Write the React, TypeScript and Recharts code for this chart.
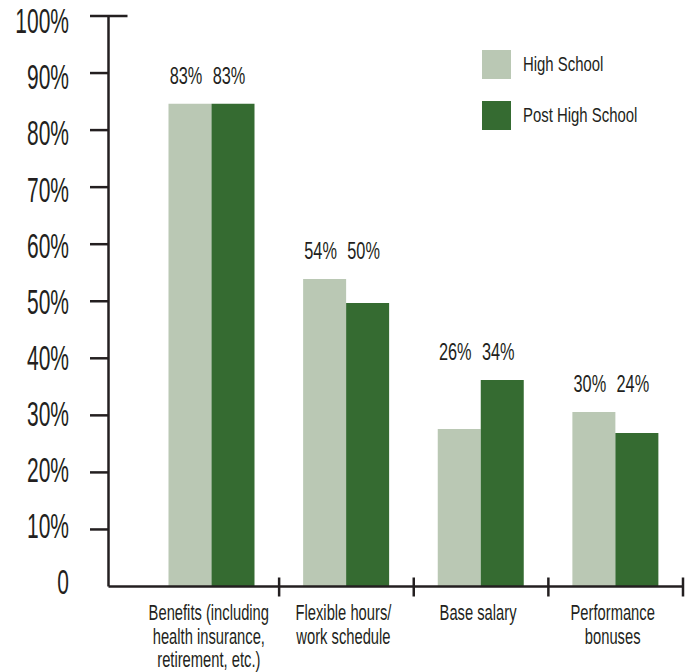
import React from "react";
import { Bar, BarChart, Customized, LabelList, XAxis, YAxis } from "recharts";

const categories = [
  "Benefits (including\nhealth insurance,\nretirement, etc.)",
  "Flexible hours/\nwork schedule",
  "Base salary",
  "Performance\nbonuses",
];
const seriesNames = ["High School", "Post High School"];
// bar heights as drawn in the picture
const highSchool = [84.6, 53.9, 27.6, 30.6];
const postHighSchool = [84.6, 49.7, 36.2, 26.9];
// printed value labels
const highSchoolLabels = ["83%", "54%", "26%", "30%"];
const postHighSchoolLabels = ["83%", "50%", "34%", "24%"];
const yTicks = [0, 10, 20, 30, 40, 50, 60, 70, 80, 90, 100];

const LIGHT = "#bac8b4";
const DARK = "#356b31";
const INK = "#231f20";
const FONT = "'Liberation Sans', Arial, sans-serif";

const data = categories.map((name, i) => ({
  name,
  hs: highSchool[i],
  phs: postHighSchool[i],
}));

function YTick({ x, y, payload }: any) {
  const v = payload.value;
  const dy = (v - 50) * 0.095;
  return (
    <g>
      {v > 0 && (
        <line
          x1={x - 18.5}
          x2={v === 100 ? x + 19 : x}
          y1={y}
          y2={y}
          stroke={INK}
          strokeWidth={2.5}
        />
      )}
      <text
        transform={`translate(${x - 39.5},${y + dy + 12.5}) scale(0.6,1)`}
        textAnchor="end"
        fontSize={35}
        fontFamily={FONT}
        fill={INK}
      >
        {v === 0 ? "0" : `${v}%`}
      </text>
    </g>
  );
}

function XTick({ x, y, payload }: any) {
  const half = payload.offset || 67;
  const lines = String(payload.value).split("\n");
  return (
    <g>
      <line x1={x + half} x2={x + half} y1={y - 9} y2={y + 10} stroke={INK} strokeWidth={2.5} />
      {lines.map((l, i) => (
        <text
          key={i}
          transform={`translate(${x - 3},${y + 33.5 + i * 23.5}) scale(0.67,1)`}
          textAnchor="middle"
          fontSize={22}
          fontFamily={FONT}
          fill={INK}
        >
          {l}
        </text>
      ))}
    </g>
  );
}

function makeLabel(labels: string[], own: number[], other: number[]) {
  return (props: any) => {
    const box = props.viewBox || props;
    const { x, y, width, height } = box;
    const i = props.index;
    const v = own[i];
    const perUnit = v ? Math.abs(height) / v : 0;
    const top = y - (Math.max(own[i], other[i]) - v) * perUnit;
    return (
      <text
        transform={`translate(${x + width / 2 - 4},${top - 20}) scale(0.68,1)`}
        textAnchor="middle"
        fontSize={24}
        fontFamily={FONT}
        fill={INK}
      >
        {labels[i]}
      </text>
    );
  };
}

function LegendBlock() {
  const colors = [LIGHT, DARK];
  return (
    <g>
      {seriesNames.map((n, i) => (
        <g key={n}>
          <rect x={482} y={50 + i * 51} width={29} height={29} fill={colors[i]} />
          <text
            transform={`translate(523,${70.5 + i * 51}) scale(0.71,1)`}
            fontSize={21}
            fontFamily={FONT}
            fill={INK}
          >
            {n}
          </text>
        </g>
      ))}
    </g>
  );
}

export default function App() {
  return (
    <div style={{ position: "absolute", left: 0, top: 0, background: "#fff" }}>
      <BarChart
        width={691}
        height={672}
        data={data}
        margin={{ top: 16, right: 8, bottom: 0, left: 0 }}
        barGap={0}
      >
        <XAxis
          dataKey="name"
          height={85.5}
          padding={{ left: 36, right: 0 }}
          axisLine={{ stroke: INK, strokeWidth: 2.5 }}
          tickLine={false}
          tickSize={0}
          tickMargin={0}
          interval={0}
          tick={<XTick />}
        />
        <YAxis
          width={108.5}
          domain={[0, 100]}
          ticks={yTicks}
          interval={0}
          axisLine={{ stroke: INK, strokeWidth: 2.5 }}
          tickLine={false}
          tickSize={0}
          tickMargin={0}
          tick={<YTick />}
        />
        <Bar dataKey="hs" fill={LIGHT} barSize={43} isAnimationActive={false}>
          <LabelList
            dataKey="hs"
            content={makeLabel(highSchoolLabels, highSchool, postHighSchool)}
          />
        </Bar>
        <Bar dataKey="phs" fill={DARK} barSize={43} isAnimationActive={false}>
          <LabelList
            dataKey="phs"
            content={makeLabel(postHighSchoolLabels, postHighSchool, highSchool)}
          />
        </Bar>
        <Customized component={LegendBlock} />
      </BarChart>
    </div>
  );
}
